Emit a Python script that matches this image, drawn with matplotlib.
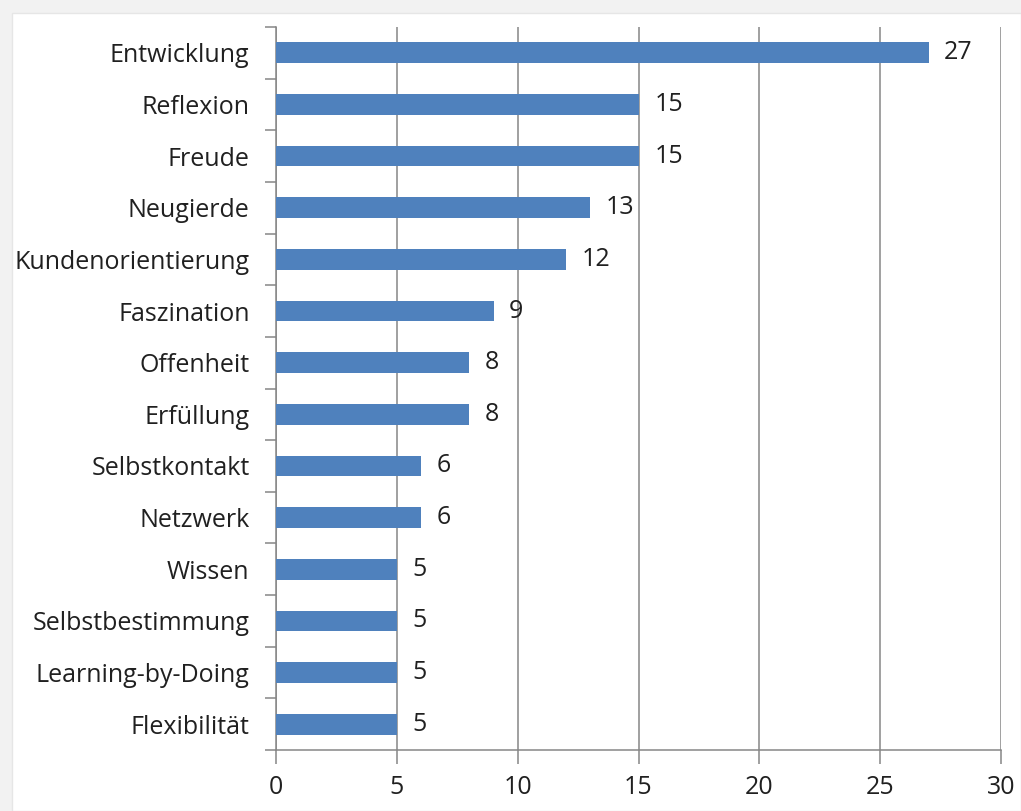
import matplotlib
matplotlib.use("Agg")
import matplotlib.pyplot as plt
from matplotlib.patches import Rectangle

categories = ["Entwicklung", "Reflexion", "Freude", "Neugierde", "Kundenorientierung",
              "Faszination", "Offenheit", "Erfüllung", "Selbstkontakt", "Netzwerk",
              "Wissen", "Selbstbestimmung", "Learning-by-Doing", "Flexibilität"]
values = [27, 15, 15, 13, 12, 9, 8, 8, 6, 6, 5, 5, 5, 5]
xticks = [0, 5, 10, 15, 20, 25, 30]

plt.rcParams['font.family'] = ['Open Sans', 'DejaVu Sans']
W, H = 1021, 811
fig = plt.figure(figsize=(W / 100, H / 100), dpi=100, facecolor='#f2f2f2')
fig.patches.append(Rectangle((12 / W, 0), 1 - 12 / W, 1 - 13 / H, transform=fig.transFigure,
                             facecolor='white', edgecolor='#e6e6e6', lw=1, zorder=-10))

ax = fig.add_axes([276 / W, 1 - 750 / H, (1001 - 276) / W, (750 - 27) / H], zorder=5)
ax.set_facecolor('none')
n = len(categories)
ypos = list(range(n))
ax.barh(ypos, values, height=0.4, color='#4f81bd', zorder=3)
ax.set_ylim(n - 0.5, -0.5)
ax.set_xlim(0, 30)

gc = '#868686'
tc = '#202020'
fs = 18
ax.set_xticks(xticks)
ax.set_xticklabels([str(t) for t in xticks], fontsize=fs, color=tc)
ax.xaxis.grid(True, color=gc, lw=1.1, zorder=1)
ax.set_yticks(ypos)
ax.set_yticklabels(categories, fontsize=fs, color=tc)
ax.tick_params(axis='y', length=0, pad=19)
ax.set_yticks([i - 0.5 for i in range(n + 1)], minor=True)
ax.tick_params(axis='y', which='minor', length=8, color=gc, width=1.1)
ax.tick_params(axis='x', length=10, color=gc, width=1.1, pad=8)
for s in ['top', 'right']:
    ax.spines[s].set_visible(False)
for s in ['left', 'bottom']:
    ax.spines[s].set_color(gc)
    ax.spines[s].set_linewidth(1.1)
ax.spines['bottom'].set_zorder(4)

for y, v in zip(ypos, values):
    ax.text(v + 0.65, y, str(v), va='center', ha='left', fontsize=fs, color=tc, zorder=5)

fig.savefig("out.png", dpi=100, facecolor=fig.get_facecolor())
